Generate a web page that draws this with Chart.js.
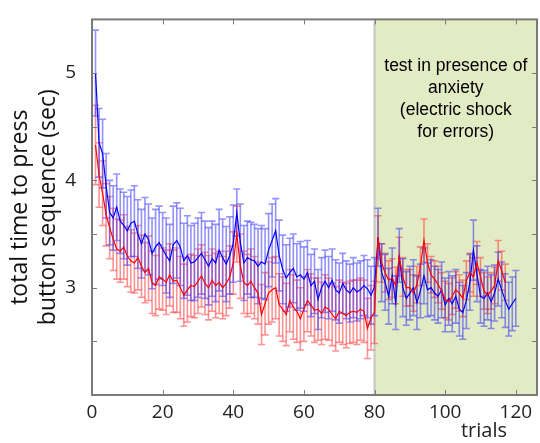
<!DOCTYPE html>
<html>
<head>
<meta charset="utf-8">
<script src="https://cdn.jsdelivr.net/npm/chart.js@4.4.1/dist/chart.umd.min.js"></script>
<style>
	body{margin:0;background:#fff;}
	#wrap{width:540px;height:443px;}
</style>
</head>
<body>
<div id="wrap"><canvas id="grafica" width="540" height="443"></canvas></div>
<script>
// trial numbers 1..120 (80 training, 40 test)
var TRIALS=[];
for(var t=1;t<=120;t++){TRIALS.push(t);}

var BLUE_MEAN=[5.00,4.35,4.25,3.95,3.70,3.65,3.75,3.62,3.58,3.53,
	3.60,3.62,3.50,3.41,3.50,3.45,3.32,3.38,3.42,3.36,
	3.30,3.25,3.40,3.44,3.38,3.25,3.30,3.23,3.24,3.28,
	3.32,3.26,3.20,3.27,3.23,3.35,3.28,3.22,3.30,3.41,
	3.70,3.42,3.23,3.28,3.26,3.25,3.20,3.24,3.22,3.35,
	3.44,3.53,3.30,3.17,3.09,3.14,3.18,3.10,3.12,3.08,
	3.14,3.02,3.06,2.89,3.00,3.06,3.00,3.07,2.98,2.95,
	3.04,2.98,2.95,3.00,2.96,2.98,3.02,2.99,2.93,3.01,
	3.47,3.14,3.05,2.92,3.11,2.86,3.30,3.00,2.90,2.95,
	3.00,2.86,2.97,3.11,2.98,3.00,2.95,2.92,2.98,2.84,
	2.90,2.85,2.92,2.80,2.77,2.88,3.05,3.35,3.13,2.92,
	2.90,2.95,2.87,2.95,3.08,2.98,2.88,2.80,2.85,2.90];
var BLUE_ERR=[0.40,0.32,0.32,0.30,0.30,0.30,0.31,0.30,0.31,0.32,
	0.31,0.33,0.32,0.32,0.34,0.33,0.33,0.35,0.34,0.34,
	0.35,0.34,0.36,0.35,0.36,0.35,0.37,0.35,0.36,0.37,
	0.38,0.36,0.36,0.35,0.36,0.38,0.36,0.35,0.36,0.36,
	0.22,0.36,0.35,0.34,0.35,0.34,0.35,0.34,0.33,0.34,
	0.34,0.30,0.33,0.32,0.31,0.32,0.32,0.31,0.31,0.30,
	0.30,0.29,0.30,0.28,0.28,0.29,0.29,0.29,0.28,0.28,
	0.28,0.27,0.27,0.28,0.27,0.27,0.28,0.27,0.27,0.27,
	0.27,0.27,0.26,0.26,0.26,0.25,0.25,0.27,0.25,0.25,
	0.26,0.25,0.25,0.26,0.25,0.26,0.25,0.25,0.26,0.25,
	0.25,0.26,0.25,0.25,0.25,0.26,0.26,0.28,0.26,0.25,
	0.26,0.25,0.25,0.26,0.25,0.26,0.25,0.25,0.25,0.26];

var RED_MEAN=[4.33,4.05,3.88,3.68,3.56,3.45,3.36,3.34,3.38,3.29,
	3.25,3.23,3.28,3.20,3.14,3.18,3.05,3.02,3.10,3.08,
	3.05,3.12,3.06,3.07,3.00,2.93,2.98,3.02,3.01,3.06,
	3.11,3.04,3.00,3.07,3.02,3.05,3.00,3.04,3.10,3.23,
	3.50,3.20,3.05,3.02,3.06,3.00,2.95,2.75,2.85,2.95,
	2.98,3.00,2.84,2.80,2.75,2.88,2.82,2.78,2.71,2.80,
	2.88,2.84,2.79,2.80,2.76,2.82,2.80,2.75,2.71,2.78,
	2.76,2.74,2.77,2.78,2.77,2.80,2.78,2.62,2.72,2.77,
	3.47,3.23,3.14,3.07,3.09,3.02,3.29,3.10,3.00,3.00,
	2.95,3.03,3.20,3.44,3.23,3.12,3.08,3.03,2.97,2.89,
	2.87,2.92,2.98,2.95,2.90,3.07,3.14,3.10,3.23,3.10,
	2.97,2.93,2.97,3.02,3.25,3.16,3.05,null,null,null];
var RED_ERR=[0.37,0.30,0.30,0.29,0.29,0.29,0.28,0.29,0.30,0.28,
	0.29,0.28,0.30,0.29,0.28,0.30,0.29,0.28,0.30,0.29,
	0.30,0.29,0.29,0.30,0.29,0.29,0.30,0.29,0.29,0.30,
	0.29,0.29,0.30,0.29,0.30,0.29,0.29,0.30,0.29,0.29,
	0.26,0.30,0.29,0.29,0.30,0.29,0.29,0.28,0.29,0.29,
	0.30,0.29,0.29,0.30,0.29,0.29,0.30,0.29,0.29,0.30,
	0.29,0.29,0.30,0.29,0.29,0.30,0.29,0.29,0.30,0.29,
	0.29,0.30,0.29,0.29,0.30,0.29,0.29,0.28,0.30,0.29,
	0.20,0.18,0.18,0.18,0.18,0.17,0.18,0.18,0.17,0.17,
	0.17,0.17,0.18,0.20,0.18,0.17,0.17,0.17,0.17,0.17,
	0.17,0.17,0.17,0.17,0.17,0.18,0.18,0.18,0.20,0.18,
	0.17,0.17,0.17,0.17,0.19,0.18,0.17,null,null,null];

var X_TICKS=[0,20,40,60,80,100,120];
var Y_TICKS=[2,2.5,3,3.5,4,4.5,5,5.5];
var Y_LABELS=[3,4,5];
var TEST_START=80;
var NOTA=["test in presence of","anxiety","(electric shock","for errors)"];

function puntos(medias){
	var arr=new Array();
	for(var i=0;i<TRIALS.length;i++){
		if(medias[i]!==null){arr.push({x:TRIALS[i],y:medias[i]});}
	}
	return arr;
}

var fondoTest={
	id:'fondoTest',
	beforeDatasetsDraw:function(chart){
		var ctx=chart.ctx, a=chart.chartArea, xs=chart.scales.x;
		var x0=xs.getPixelForValue(TEST_START);
		ctx.save();
		ctx.fillStyle='#e2ebc4';
		ctx.fillRect(x0,a.top,a.right-x0,a.bottom-a.top);
		ctx.strokeStyle='#c4c4c4';
		ctx.lineWidth=2;
		ctx.beginPath();ctx.moveTo(x0,a.top);ctx.lineTo(x0,a.bottom);ctx.stroke();
		ctx.fillStyle='#000';
		ctx.font='17.5px "Liberation Sans", Arial, sans-serif';
		ctx.textAlign='center';
		ctx.textBaseline='middle';
		var cx=(x0+a.right)/2;
		for(var i=0;i<NOTA.length;i++){ctx.fillText(NOTA[i],cx,66+i*22);}
		ctx.restore();
	}
};

var barrasError={
	id:'barrasError',
	beforeDatasetsDraw:function(chart){
		var ctx=chart.ctx, xs=chart.scales.x, ys=chart.scales.y;
		var series=[[RED_MEAN,RED_ERR,'rgba(255,40,40,0.5)'],[BLUE_MEAN,BLUE_ERR,'rgba(40,40,255,0.5)']];
		ctx.save();
		ctx.lineWidth=1.6;
		for(var s=0;s<series.length;s++){
			ctx.strokeStyle=series[s][2];
			for(var i=0;i<TRIALS.length;i++){
				var m=series[s][0][i], e=series[s][1][i];
				if(m===null){continue;}
				var px=xs.getPixelForValue(TRIALS[i]);
				var y1=ys.getPixelForValue(m+e), y2=ys.getPixelForValue(m-e);
				ctx.beginPath();
				ctx.moveTo(px,y1);ctx.lineTo(px,y2);
				ctx.moveTo(px-3.5,y1);ctx.lineTo(px+3.5,y1);
				ctx.moveTo(px-3.5,y2);ctx.lineTo(px+3.5,y2);
				ctx.stroke();
			}
		}
		ctx.restore();
	}
};

var marco={
	id:'marco',
	afterDraw:function(chart){
		var ctx=chart.ctx, a=chart.chartArea, xs=chart.scales.x, ys=chart.scales.y;
		ctx.save();
		ctx.strokeStyle='#7a7a7a';
		ctx.lineWidth=1;
		ctx.beginPath();
		for(var i=0;i<X_TICKS.length;i++){
			var px=Math.round(xs.getPixelForValue(X_TICKS[i]))+0.5;
			ctx.moveTo(px,a.bottom);ctx.lineTo(px,a.bottom-5);
			ctx.moveTo(px,a.top);ctx.lineTo(px,a.top+5);
		}
		for(var j=0;j<Y_TICKS.length;j++){
			var py=Math.round(ys.getPixelForValue(Y_TICKS[j]))+0.5;
			ctx.moveTo(a.left,py);ctx.lineTo(a.left+5,py);
			ctx.moveTo(a.right,py);ctx.lineTo(a.right-5,py);
		}
		ctx.stroke();
		ctx.lineWidth=2;
		ctx.strokeRect(a.left,a.top,a.right-a.left,a.bottom-a.top);
		ctx.fillStyle='#222';
		ctx.font='20px "Open Sans", sans-serif';
		ctx.textAlign='center';
		ctx.textBaseline='middle';
		ctx.fillText('trials',484,431);
		ctx.restore();
	}
};

var config={
	type:'line',
	data:{
		datasets:[
			{label:'red',data:puntos(RED_MEAN),borderColor:'#ff0000',borderWidth:1.2,pointRadius:0,tension:0},
			{label:'blue',data:puntos(BLUE_MEAN),borderColor:'#0000ff',borderWidth:1.2,pointRadius:0,tension:0}
		]
	},
	options:{
		responsive:false,
		animation:false,
		layout:{padding:{top:10,right:3,left:0,bottom:0}},
		plugins:{legend:{display:false},tooltip:{enabled:false}},
		scales:{
			x:{
				type:'linear',min:0,max:126,
				grid:{display:false},border:{display:false},
				afterBuildTicks:function(scale){scale.ticks=X_TICKS.map(function(v){return {value:v};});},
				afterFit:function(scale){scale.height=48;},
				ticks:{font:{family:'"Open Sans", sans-serif',size:19},color:'#222',padding:-2,maxRotation:0}
			},
			y:{
				type:'linear',min:2,max:5.5,
				grid:{display:false},border:{display:false},
				afterBuildTicks:function(scale){scale.ticks=Y_TICKS.map(function(v){return {value:v};});},
				afterFit:function(scale){scale.width=92;},
				ticks:{font:{family:'"Open Sans", sans-serif',size:19},color:'#222',padding:8,
					callback:function(v){return Y_LABELS.indexOf(v)>=0?v:'';}},
				title:{display:true,text:['total time to press','button sequence (sec)'],
					font:{family:'"Open Sans", sans-serif',size:23,lineHeight:1.2},color:'#111',padding:{top:7,bottom:0}}
			}
		}
	},
	plugins:[fondoTest,barrasError,marco]
};

new Chart(document.getElementById('grafica').getContext('2d'),config);
</script>
</body>
</html>
